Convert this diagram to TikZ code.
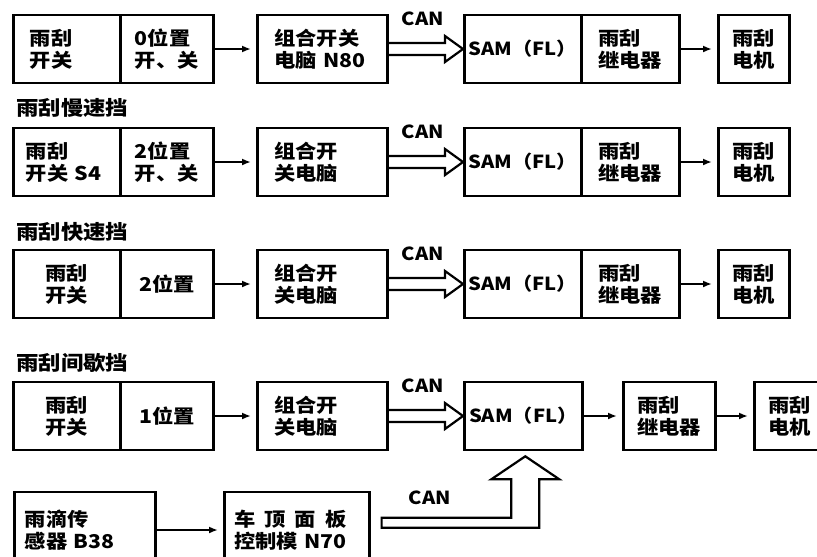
\documentclass[tikz,border=0pt]{standalone}
\usepackage{fontspec}
\setmainfont{Noto Sans CJK SC}[FakeStretch=1.12]
\usetikzlibrary{arrows.meta,calc}
\newcommand\canarrow[3]{%
  \draw[can] ($(#1.east)+(0,-6)$) -- ($(#2.west)+(-18,-6)$) -- ($(#2.west)+(-18,-13)$) -- (#2.west)
    -- ($(#2.west)+(-18,13)$) -- ($(#2.west)+(-18,6)$) -- ($(#1.east)+(0,6)$);
  \node[lbl] (#3) at ($(#1.east)!0.5!(#2.west)+(-3,-30)$) {CAN};}
\newcommand\samtext{{\fontsize{18}{20}\selectfont SAM（FL）}}
\begin{document}
\begin{tikzpicture}[x=1pt,y=-1pt,
  box/.style={draw, line width=2.6pt, minimum height=68pt, inner sep=0pt, align=left,
    font=\fontsize{19}{22}\selectfont\bfseries, anchor=west},
  arr/.style={line width=2pt, -{Latex[length=9pt,width=7pt]}, shorten >=5pt},
  can/.style={line width=2.2pt, line join=miter},
  lbl/.style={font=\fontsize{18}{20}\selectfont\bfseries, inner sep=0pt},
  hd/.style={font=\fontsize{20}{22}\selectfont\bfseries, anchor=west, inner sep=0pt}]
\useasboundingbox (0,0) rectangle (817,557);
\clip (0,0) rectangle (817,557);
\fill[white] (0,0) rectangle (817,557);

% row 1
\node[box, minimum width=107, text width=74] (a1) at (12,49) {雨刮\\开关};
\node[box, minimum width=93] (b1) at (119,49) {0位置\\开、关};
\node[box, minimum width=130, text width=96] (c1) at (256,49) {组合开关\\电脑 N80};
\node[box, minimum width=117, align=center] (s1) at (463,49) {\samtext};
\node[box, minimum width=98] (r1) at (580,49) {雨刮\\继电器};
\node[box, minimum width=71] (m1) at (717,49) {雨刮\\电机};
\draw[arr] (b1) -- (c1);
\draw[arr] (r1) -- (m1);
\canarrow{c1}{s1}{can1}

% row 2
\node[hd] (h2) at (16,108) {雨刮慢速挡};
\node[box, minimum width=107, text width=82] (a2) at (12,162) {雨刮\\开关 S4};
\node[box, minimum width=93] (b2) at (119,162) {2位置\\开、关};
\node[box, minimum width=130, text width=96] (c2) at (256,162) {组合开\\关电脑};
\node[box, minimum width=117, align=center] (s2) at (463,162) {\samtext};
\node[box, minimum width=98] (r2) at (580,162) {雨刮\\继电器};
\node[box, minimum width=71] (m2) at (717,162) {雨刮\\电机};
\draw[arr] (b2) -- (c2);
\draw[arr] (r2) -- (m2);
\canarrow{c2}{s2}{can2}

% row 3
\node[hd] (h3) at (16,232) {雨刮快速挡};
\node[box, minimum width=107, align=center] (a3) at (12,284) {雨刮\\开关};
\node[box, minimum width=93] (b3) at (119,284) {2位置};
\node[box, minimum width=130, text width=96] (c3) at (256,284) {组合开\\关电脑};
\node[box, minimum width=117, align=center] (s3) at (463,284) {\samtext};
\node[box, minimum width=98] (r3) at (580,284) {雨刮\\继电器};
\node[box, minimum width=71] (m3) at (717,284) {雨刮\\电机};
\draw[arr] (b3) -- (c3);
\draw[arr] (r3) -- (m3);
\canarrow{c3}{s3}{can3}

% row 4
\node[hd] (h4) at (16,363) {雨刮间歇挡};
\node[box, minimum width=107, align=center] (a4) at (12,416) {雨刮\\开关};
\node[box, minimum width=93] (b4) at (119,416) {1位置};
\node[box, minimum width=130, text width=96] (c4) at (256,416) {组合开\\关电脑};
\node[box, minimum width=118, align=center] (s4) at (463,416) {\samtext};
\node[box, minimum width=92] (r4) at (622,416) {雨刮\\继电器};
\node[box, minimum width=71] (m4) at (753,416) {雨刮\\电机};
\draw[arr] (b4) -- (c4);
\draw[arr] (s4) -- (r4);
\draw[arr] (r4) -- (m4);
\canarrow{c4}{s4}{can4}

% row 5
\node[box, minimum width=141, minimum height=76, text width=120] (b38) at (13,530) {雨滴传\\感器 B38};
\node[box, minimum width=145, minimum height=76, text width=125] (n70) at (223,530)
  {车\hspace{9pt}顶\hspace{9pt}面\hspace{9pt}板\\控制模 N70};
\draw[arr] (b38) -- (n70);

\coordinate (t5) at ($(s4.south)+(2,5)$);
\coordinate (sl) at ($(t5)+(-14,23)$);
\coordinate (sr) at ($(t5)+(14,23)$);
\coordinate (p1) at ($(n70.north east)+(11,27)$);
\coordinate (p2) at ($(n70.north east)+(11,37)$);
\draw[can] (p1) -- (sl |- p1) -- (sl) -- ($(t5)+(-34,23)$) -- (t5) -- ($(t5)+(34,23)$)
  -- (sr) -- (sr |- p2) -- (p2) -- cycle;
\node[lbl] (can5) at (430,498) {CAN};
\end{tikzpicture}
\end{document}
